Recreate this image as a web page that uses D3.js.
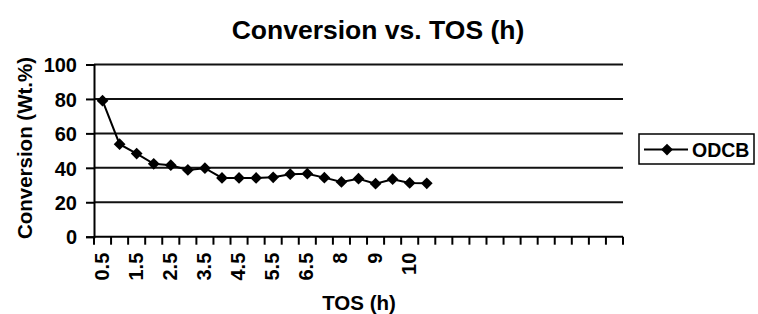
<!DOCTYPE html>
<html>
<head>
<meta charset="utf-8">
<script src="https://cdn.jsdelivr.net/npm/d3@7"></script>
<style>
  body { margin: 0; background: #fff; }
  text { font-family: Arial, "Liberation Sans", sans-serif; font-weight: bold; }
</style>
</head>
<body>
<div id="viz-container"></div>
<script>
// categories on the x axis (Excel-style category axis, every other label shown)
let tos = ['0.5','1','1.5','2','2.5','3','3.5','4','4.5','5','5.5','6','6.5','7','8','8.5','9','9.5','10','10.5',
  '', '', '', '', '', '', '', '', '', '', ''];
let odcb = [79, 53.7, 48.3, 42.3, 41.5, 38.8, 39.8, 34.1, 34.1, 34.1, 34.5, 36.3, 36.6, 34.3, 31.8, 33.7, 30.8, 33.4, 31.2, 31.0];
let yTicks = [0, 20, 40, 60, 80, 100];

let viz = d3.select('#viz-container')
  .append('svg')
    .attr('width', 758)
    .attr('height', 314);

let plotLeft = 94, plotRight = 623, plotTop = 64.5, plotBottom = 236.7;

let keys = tos.map((d, i) => i);
let x = d3.scaleBand().domain(keys).range([plotLeft, plotRight]);
let y = d3.scaleLinear().domain([0, 100]).range([plotBottom, plotTop]);

// gridlines
viz.selectAll('.grid').data(yTicks.slice(1)).enter()
  .append('line')
    .attr('x1', plotLeft)
    .attr('x2', plotRight)
    .attr('y1', d => y(d))
    .attr('y2', d => y(d))
    .attr('stroke', '#111')
    .attr('stroke-width', 2);

// y axis
let yAxis = viz.append('g')
  .attr('transform', 'translate(' + plotLeft + ',0)')
  .call(d3.axisLeft(y).tickValues(yTicks).tickSize(8).tickPadding(9));
yAxis.select('.domain').attr('stroke-width', 2);
yAxis.selectAll('.tick line').attr('stroke-width', 2);
yAxis.selectAll('.tick text').attr('font-size', 20).attr('fill', '#000').attr('dy', '0.36em');

// x axis: ticks sit on category boundaries
let xAxis = viz.append('g').attr('transform', 'translate(0,' + plotBottom + ')');
xAxis.append('line')
  .attr('x1', plotLeft).attr('x2', plotRight)
  .attr('stroke', '#000').attr('stroke-width', 2);
xAxis.selectAll('.xt').data(keys.concat([keys.length])).enter()
  .append('line')
    .attr('x1', d => plotLeft + d * x.step())
    .attr('x2', d => plotLeft + d * x.step())
    .attr('y1', 0)
    .attr('y2', 8)
    .attr('stroke', '#000')
    .attr('stroke-width', 2);
xAxis.selectAll('.xl').data(keys.filter(i => i % 2 == 0 && tos[i] != '')).enter()
  .append('text')
    .attr('transform', d => 'translate(' + (x(d) + x.bandwidth() / 2 + 6) + ',16) rotate(-90)')
    .attr('text-anchor', 'end')
    .attr('font-size', 20)
    .text(d => tos[d]);

// series line
let line = d3.line()
  .x((d, i) => x(i) + x.bandwidth() / 2)
  .y(d => y(d));
viz.append('path')
  .datum(odcb)
  .attr('d', line)
  .attr('fill', 'none')
  .attr('stroke', '#000')
  .attr('stroke-width', 2);

let diamond = d3.symbol().type(d3.symbolDiamond2).size(88);
viz.selectAll('.pt').data(odcb).enter()
  .append('path')
    .attr('d', diamond)
    .attr('transform', (d, i) => 'translate(' + (x(i) + x.bandwidth() / 2) + ',' + y(d) + ')')
    .attr('fill', '#000');

// titles
viz.append('text')
  .attr('x', 378).attr('y', 39)
  .attr('text-anchor', 'middle')
  .attr('font-size', 26.5)
  .text('Conversion vs. TOS (h)');
viz.append('text')
  .attr('x', 359).attr('y', 310)
  .attr('text-anchor', 'middle')
  .attr('font-size', 20.5)
  .text('TOS (h)');
viz.append('text')
  .attr('transform', 'translate(32,148) rotate(-90)')
  .attr('text-anchor', 'middle')
  .attr('font-size', 20.5)
  .text('Conversion (Wt.%)');

// legend
let lg = viz.append('g').attr('transform', 'translate(639,134)');
lg.append('rect')
  .attr('width', 115).attr('height', 30)
  .attr('fill', '#fff').attr('stroke', '#000').attr('stroke-width', 1.5);
lg.append('line')
  .attr('x1', 5).attr('x2', 49).attr('y1', 15.5).attr('y2', 15.5)
  .attr('stroke', '#000').attr('stroke-width', 2);
lg.append('path')
  .attr('d', diamond)
  .attr('transform', 'translate(28,15.5)')
  .attr('fill', '#000');
lg.append('text')
  .attr('x', 53).attr('y', 22.5)
  .attr('font-size', 19.5)
  .text('ODCB');
</script>
</body>
</html>
